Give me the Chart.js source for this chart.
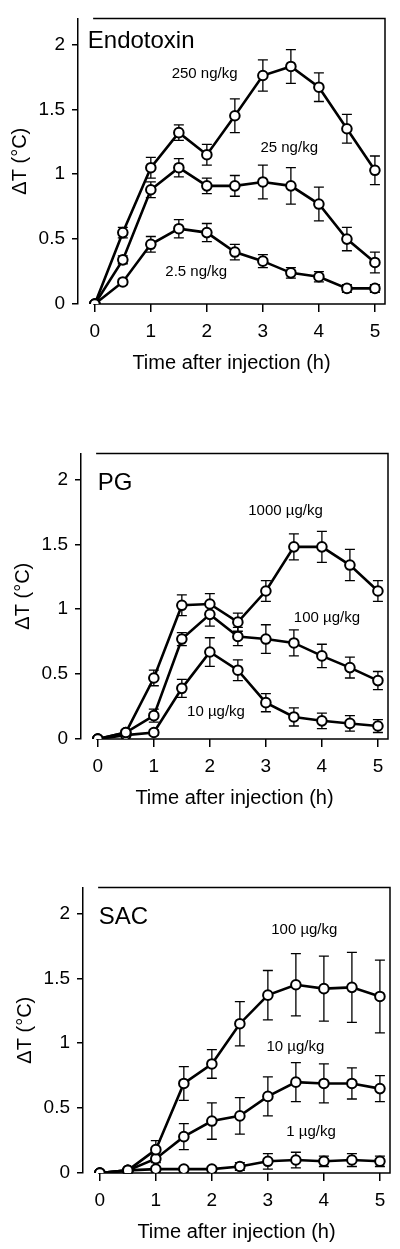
<!DOCTYPE html>
<html>
<head>
<meta charset="utf-8">
<script src="https://cdn.jsdelivr.net/npm/chart.js@4"></script>
<style>
  body { margin: 0; width: 400px; height: 1249px; overflow: hidden; background: #fff; position: relative; }
  canvas { position: absolute; }
</style>
</head>
<body>
<canvas id="endo" width="400" height="382" style="left:0;top:0"></canvas>
<canvas id="pg" width="400" height="382" style="left:3px;top:435px"></canvas>
<canvas id="sac" width="400" height="382" style="left:5px;top:869px"></canvas>
<script>
// time after injection (h)
const hours = [0, 0.5, 1, 1.5, 2, 2.5, 3, 3.5, 4, 4.5, 5];
const xTicks = [0, 1, 2, 3, 4, 5];
const yTicks = [0, 0.5, 1, 1.5, 2];

// Endotoxin (ng/kg)
const endo250 = [0, 0.55, 1.05, 1.32, 1.15, 1.45, 1.76, 1.83, 1.67, 1.35, 1.03];
const endo250Err = [0, 0.04, 0.08, 0.06, 0.08, 0.13, 0.12, 0.13, 0.11, 0.11, 0.11];
const endo25 = [0, 0.34, 0.88, 1.05, 0.91, 0.91, 0.94, 0.91, 0.77, 0.50, 0.32];
const endo25Err = [0, 0.03, 0.06, 0.07, 0.06, 0.08, 0.13, 0.14, 0.13, 0.09, 0.08];
const endo2_5 = [0, 0.17, 0.46, 0.58, 0.55, 0.40, 0.33, 0.24, 0.21, 0.12, 0.12];
const endo2_5Err = [0, 0.02, 0.06, 0.07, 0.07, 0.06, 0.05, 0.04, 0.04, 0.03, 0.03];
const endoDoses = ['250 ng/kg', '25 ng/kg', '2.5 ng/kg'];

// PG (µg/kg)
const pg1000 = [0, 0.05, 0.47, 1.03, 1.04, 0.90, 1.14, 1.48, 1.48, 1.34, 1.14];
const pg1000Err = [0, 0.02, 0.06, 0.08, 0.08, 0.07, 0.08, 0.10, 0.12, 0.12, 0.08];
const pg100 = [0, 0.05, 0.18, 0.77, 0.96, 0.79, 0.77, 0.74, 0.64, 0.55, 0.45];
const pg100Err = [0, 0.02, 0.05, 0.05, 0.09, 0.07, 0.11, 0.10, 0.09, 0.08, 0.07];
const pg10 = [0, 0.03, 0.05, 0.39, 0.67, 0.53, 0.28, 0.17, 0.14, 0.12, 0.10];
const pg10Err = [0, 0.01, 0.02, 0.07, 0.11, 0.08, 0.07, 0.07, 0.06, 0.06, 0.05];
const pgDoses = ['1000 µg/kg', '100 µg/kg', '10 µg/kg'];

// SAC (µg/kg)
const sac100 = [0, 0.02, 0.18, 0.69, 0.84, 1.15, 1.37, 1.45, 1.42, 1.43, 1.36];
const sac100Err = [0, 0.02, 0.07, 0.13, 0.11, 0.17, 0.19, 0.24, 0.25, 0.27, 0.28];
const sac10 = [0, 0.02, 0.11, 0.28, 0.40, 0.44, 0.59, 0.70, 0.69, 0.69, 0.65];
const sac10Err = [0, 0.01, 0.03, 0.10, 0.14, 0.14, 0.15, 0.15, 0.15, 0.12, 0.10];
const sac1 = [0, 0.02, 0.03, 0.03, 0.03, 0.05, 0.09, 0.10, 0.09, 0.10, 0.09];
const sac1Err = [0, 0.01, 0.01, 0.01, 0.01, 0.03, 0.06, 0.06, 0.04, 0.05, 0.04];
const sacDoses = ['100 µg/kg', '10 µg/kg', '1 µg/kg'];

const FONT = '"Liberation Sans", Arial, Helvetica, sans-serif';

// draws the open frame, error bars and the text inside each panel
const panelPlugin = {
  id: 'panel',
  beforeDatasetsDraw(chart, args, opts) {
    const ctx = chart.ctx, xs = chart.scales.x, ys = chart.scales.y, a = chart.chartArea;
    ctx.save();
    ctx.strokeStyle = '#000';
    ctx.lineWidth = 1.5;
    const x0 = xs.getPixelForValue(-0.03);
    ctx.beginPath();
    ctx.moveTo(x0, a.top);
    ctx.lineTo(a.right, a.top);
    ctx.lineTo(a.right, a.bottom);
    ctx.lineTo(x0, a.bottom);
    ctx.stroke();

    // error bars (under the markers)
    ctx.lineWidth = 1.3;
    chart.data.datasets.forEach((ds, i) => {
      chart.getDatasetMeta(i).data.forEach((pt, j) => {
        const e = ds.errors[j];
        if (!e) return;
        const v = ds.data[j].y;
        const top = ys.getPixelForValue(v + e), bot = ys.getPixelForValue(v - e);
        ctx.beginPath();
        ctx.moveTo(pt.x, top); ctx.lineTo(pt.x, bot);
        ctx.moveTo(pt.x - 5, top); ctx.lineTo(pt.x + 5, top);
        ctx.moveTo(pt.x - 5, bot); ctx.lineTo(pt.x + 5, bot);
        ctx.stroke();
      });
    });
    ctx.restore();
  },
  afterDatasetsDraw(chart, args, opts) {
    const ctx = chart.ctx, xs = chart.scales.x, ys = chart.scales.y;
    ctx.save();
    ctx.fillStyle = '#000';
    ctx.textBaseline = 'middle';
    ctx.textAlign = 'left';
    ctx.font = '24px ' + FONT;
    ctx.fillText(opts.title, xs.getPixelForValue(opts.titleAt[0]), ys.getPixelForValue(opts.titleAt[1]));
    ctx.textAlign = 'center';
    ctx.font = '15px ' + FONT;
    opts.doses.forEach((t, i) => {
      const p = opts.doseAt[i];
      ctx.fillText(t, xs.getPixelForValue(p[0]), ys.getPixelForValue(p[1]));
    });
    ctx.restore();
  }
};

function makePanel(id, title, titleAt, series, errors, doses, doseAt) {
  const datasets = series.map((vals, i) => ({
    data: hours.map((h, j) => ({ x: h, y: vals[j] })),
    errors: errors[i],
    borderColor: '#000',
    borderWidth: 2.6,
    pointRadius: 4.8,
    pointBorderWidth: 2,
    pointBackgroundColor: '#fff',
    pointBorderColor: '#000',
    tension: 0
  }));
  return new Chart(document.getElementById(id), {
    type: 'line',
    data: { datasets },
    options: {
      responsive: false,
      animation: false,
      devicePixelRatio: 1,
      layout: { padding: { top: 13, right: 15, left: 0, bottom: 0 } },
      plugins: {
        legend: { display: false },
        tooltip: { enabled: false },
        panel: { title, titleAt, doses, doseAt }
      },
      scales: {
        x: {
          type: 'linear', min: -0.3, max: 5.18,
          afterBuildTicks: s => { s.ticks = xTicks.map(v => ({ value: v })); },
          afterFit: s => { s.height = 78; },
          border: { display: false },
          grid: { drawOnChartArea: false, tickLength: 8, color: '#000', lineWidth: 1.5 },
          ticks: { color: '#000', font: { family: FONT, size: 19 }, padding: 8, maxRotation: 0, callback: v => String(v) },
          title: { display: true, text: 'Time after injection (h)', color: '#000', font: { family: FONT, size: 20 }, padding: { top: 0, bottom: 7 } }
        },
        y: {
          min: 0, max: 2.2,
          afterBuildTicks: s => { s.ticks = yTicks.map(v => ({ value: v })); },
          afterFit: s => { s.width = 78; },
          border: { display: true, color: '#000', width: 1.5 },
          grid: { drawOnChartArea: false, tickLength: 6, color: '#000', lineWidth: 1.5 },
          ticks: { color: '#000', font: { family: FONT, size: 19 }, padding: 7, callback: v => String(v) },
          title: { display: true, text: 'ΔT (°C)', color: '#000', font: { family: FONT, size: 20 }, padding: { top: 8, bottom: 0 } }
        }
      }
    },
    plugins: [panelPlugin]
  });
}

makePanel('endo', 'Endotoxin', [-0.125, 2.02],
  [endo250, endo25, endo2_5], [endo250Err, endo25Err, endo2_5Err],
  endoDoses, [[1.96, 1.77], [3.47, 1.20], [1.81, 0.25]]);

makePanel('pg', 'PG', [0.0, 1.97],
  [pg1000, pg100, pg10], [pg1000Err, pg100Err, pg10Err],
  pgDoses, [[3.35, 1.76], [4.09, 0.93], [2.11, 0.21]]);

makePanel('sac', 'SAC', [-0.02, 1.97],
  [sac100, sac10, sac1], [sac100Err, sac10Err, sac1Err],
  sacDoses, [[3.65, 1.87], [3.49, 0.97], [3.77, 0.32]]);
</script>
</body>
</html>
